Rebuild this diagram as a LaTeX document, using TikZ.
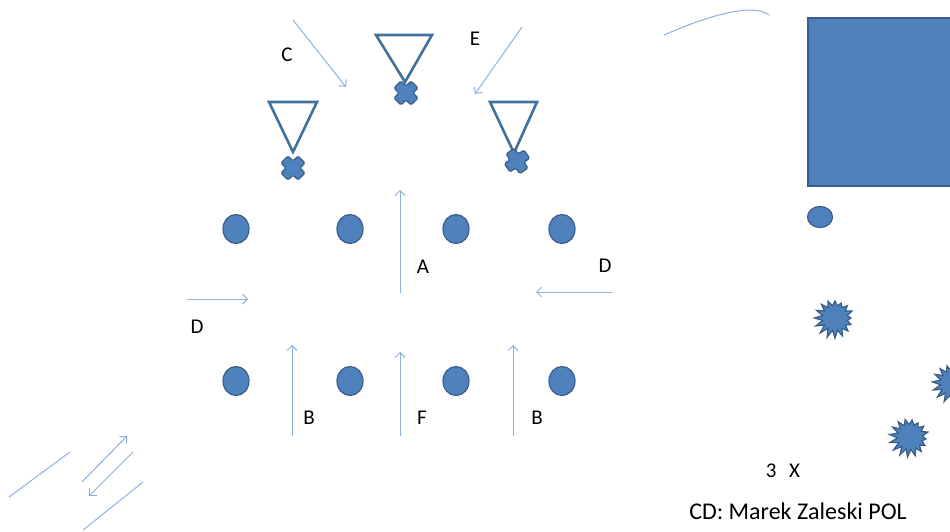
\documentclass[tikz,border=0pt]{standalone}
\usepackage{fontspec}
\setmainfont{Carlito}
\usetikzlibrary{arrows.meta,shapes.geometric}
\definecolor{fillblue}{HTML}{4F81BD}
\definecolor{edgeblue}{HTML}{385D8A}
\definecolor{triblue}{HTML}{41719C}
\definecolor{arrowblue}{HTML}{8DB0DE}
\tikzset{
  lbl/.style={font=\fontsize{21}{25}\selectfont, text=black, inner sep=0pt},
  credit/.style={font=\fontsize{24}{28}\selectfont, text=black, inner sep=0pt},
  cone/.style={ellipse, minimum width=26pt, minimum height=29pt, fill=fillblue, draw=edgeblue, line width=1.2pt, inner sep=0pt},
  mv/.style={draw=arrowblue, line width=1pt, -{Straight Barb[length=5pt,width=10pt]}},
  plainline/.style={draw=arrowblue, line width=1pt},
  tri/.style={draw=triblue, line width=2.6pt, line join=miter},
  shapefill/.style={fill=fillblue, draw=edgeblue, line width=1.2pt},
  pics/xmark/.style={code={
    \draw[shapefill, rotate=#1, rounded corners=1.5pt]
      (5,12) -- (5,5) -- (12,5) -- (12,-5) -- (5,-5) -- (5,-12) -- (-5,-12) -- (-5,-5)
      -- (-12,-5) -- (-12,5) -- (-5,5) -- (-5,12) -- cycle;
  }},
  pics/burst/.style={code={
    \draw[shapefill, line join=miter]
      plot[domain=0:31, samples=32] (\x*360/32+#1:{ifthenelse(mod(round(\x),2)==0, 16+5*abs(sin(\x*97)), 12.5)}) -- cycle;
  }}
}
\begin{document}
\begin{tikzpicture}[x=1pt,y=-1pt]
\useasboundingbox (0,0) rectangle (950,532);
\clip (0,0) rectangle (950,532);

% cones (circles)
\foreach \i/\x in {1/236,2/350,3/456,4/562}{
  \node[cone] (top\i) at (\x,229) {};
  \node[cone] (bot\i) at (\x,381) {};
}

% triangles and crosses
\draw[tri] (376,35) -- (432,35) -- (405,82) -- cycle;
\pic at (406,93) {xmark=45};
\draw[tri] (269,102) -- (317,102) -- (293,152) -- cycle;
\pic at (293,168) {xmark=45};
\draw[tri] (490,102) -- (537,102) -- (514,153) -- cycle;
\pic at (517,161) {xmark=35};

% arrows
\coordinate (aS) at (400,293); \coordinate (aE) at (400,190);
\coordinate (b1S) at (292,436); \coordinate (b1E) at (292,345);
\coordinate (fS) at (400,436); \coordinate (fE) at (400,352);
\coordinate (b2S) at (513,436); \coordinate (b2E) at (513,345);
\coordinate (d1S) at (187,299); \coordinate (d1E) at (248,299);
\coordinate (d2S) at (612,292); \coordinate (d2E) at (536,292);
\coordinate (cS) at (293,20); \coordinate (cE) at (346,87);
\coordinate (eS) at (522,27); \coordinate (eE) at (475,94);
\draw[mv] (aS) -- (aE);
\draw[mv] (b1S) -- (b1E);
\draw[mv] (fS) -- (fE);
\draw[mv] (b2S) -- (b2E);
\draw[mv] (d1S) -- (d1E);
\draw[mv] (d2S) -- (d2E);
\draw[mv] (cS) -- (cE);
\draw[mv] (eS) -- (eE);

% bottom-left lines
\coordinate (l1S) at (9,497); \coordinate (l1E) at (70,452);
\coordinate (l2S) at (82,482); \coordinate (l2E) at (127,436);
\coordinate (l3S) at (133,452); \coordinate (l3E) at (89,496);
\coordinate (l4S) at (83,530); \coordinate (l4E) at (143,482);
\draw[plainline] (l1S) -- (l1E);
\draw[mv] (l2S) -- (l2E);
\draw[mv] (l3S) -- (l3E);
\draw[plainline] (l4S) -- (l4E);

% arc top
\coordinate (arcS) at (664,35); \coordinate (arcE) at (769,15);
\draw[plainline] (arcS) .. controls (705,17) and (752,2) .. (arcE);

% goal / rectangle
\draw[shapefill] (808,18) rectangle (970,186);
\node[ellipse, minimum width=25pt, minimum height=21pt, inner sep=0pt, shapefill] (ball) at (820,217) {};

% bursts
\pic at (835,318) {burst=0};
\pic at (910,437) {burst=7};
\pic at (953,383) {burst=3};

% labels
\node[lbl] (lC) at (287,55) {C};
\node[lbl] (lE) at (475,39) {E};
\node[lbl] (lA) at (423,267) {A};
\node[lbl] (lD1) at (605,266) {D};
\node[lbl] (lD2) at (197,327) {D};
\node[lbl] (lB1) at (309,418) {B};
\node[lbl] (lF) at (422,418) {F};
\node[lbl] (lB2) at (537,418) {B};
\node[lbl] (l3X) at (783,471) {3\hspace{0.6em}X};
\node[credit] (cred) at (798,511) {CD: Marek Zaleski POL};
\end{tikzpicture}
\end{document}
